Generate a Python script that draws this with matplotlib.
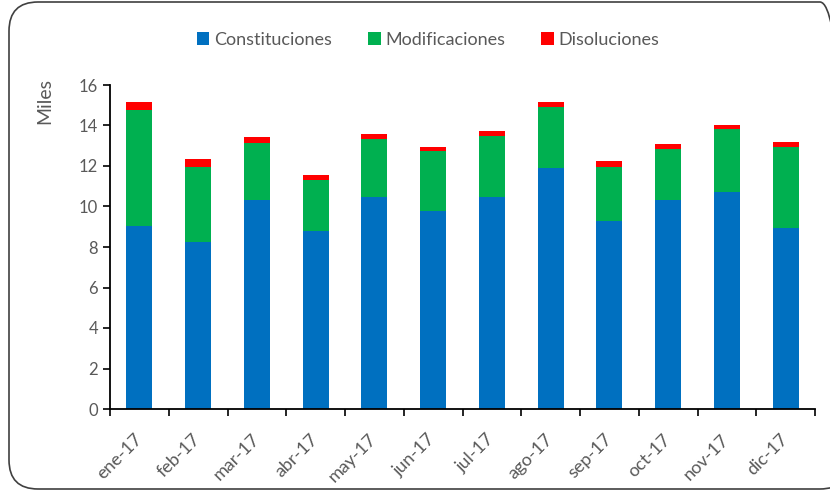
import numpy as np
import matplotlib.pyplot as plt
from matplotlib.patches import FancyBboxPatch
from matplotlib.transforms import ScaledTranslation

plt.rcParams['font.family'] = ['Lato', 'DejaVu Sans']

meses = ['ene-17', 'feb-17', 'mar-17', 'abr-17', 'may-17', 'jun-17',
         'jul-17', 'ago-17', 'sep-17', 'oct-17', 'nov-17', 'dic-17']
# valores en miles
constituciones = [9.04, 8.27, 10.31, 8.80, 10.47, 9.80, 10.47, 11.89, 9.29, 10.31, 10.72, 8.96]
modificaciones = [5.73, 3.70, 2.84, 2.51, 2.85, 2.94, 3.03, 3.04, 2.68, 2.52, 3.11, 3.97]
disoluciones = [0.40, 0.36, 0.27, 0.26, 0.26, 0.19, 0.24, 0.24, 0.26, 0.24, 0.18, 0.24]

azul = '#0070C0'
verde = '#00B050'
rojo = '#FF0000'
gris = '#595959'

fig = plt.figure(figsize=(8.3, 4.98), dpi=100)
ax = fig.add_axes([110 / 830, 1 - 409 / 498, 705 / 830, 324 / 498])

# marco redondeado del grafico
marco = FancyBboxPatch((9 / 830, 9 / 498), 840 / 830, 487 / 498,
                       boxstyle='round,pad=0,rounding_size=0.035',
                       transform=fig.transFigure, fill=False,
                       edgecolor='#404040', linewidth=1.2, clip_on=False,
                       mutation_aspect=830 / 498)
fig.patches.append(marco)

x = np.arange(len(meses))
c = np.array(constituciones)
m = np.array(modificaciones)
d = np.array(disoluciones)
w = 0.44
ax.bar(x, c, w, color=azul, label='Constituciones')
ax.bar(x, m, w, bottom=c, color=verde, label='Modificaciones')
ax.bar(x, d, w, bottom=c + m, color=rojo, label='Disoluciones')

ax.set_xlim(-0.5, len(meses) - 0.5)
ax.set_ylim(0, 16)
ax.set_yticks(np.arange(0, 17, 2))
ax.tick_params(axis='y', labelsize=12, labelcolor=gris, length=5, width=1.2, direction='out')

ax.set_xticks(x)
ax.set_xticklabels(meses, rotation=45, ha='right', va='center', rotation_mode='anchor',
                   fontsize=13, color=gris)
desplaza = ScaledTranslation(6 / 100, 0, fig.dpi_scale_trans)
for lab in ax.get_xticklabels():
    lab.set_transform(lab.get_transform() + desplaza)
ax.set_xticks(np.arange(-0.5, len(meses)), minor=True)
ax.tick_params(axis='x', which='major', length=0, pad=20)
ax.tick_params(axis='x', which='minor', length=5, width=1.2, direction='out')

for s in ['top', 'right']:
    ax.spines[s].set_visible(False)
for s in ['left', 'bottom']:
    ax.spines[s].set_linewidth(1.3)
    ax.spines[s].set_color('black')

fig.text(45 / 830, 1 - 101 / 498, 'Miles', rotation=90, ha='center', va='center',
         fontsize=14, color=gris)

fig.legend(loc='center', bbox_to_anchor=(428 / 830, 1 - 40 / 498), ncol=3,
           frameon=False, fontsize=13, labelcolor=gris, handlelength=0.7,
           handleheight=0.7, handletextpad=0.25, columnspacing=2.0)

fig.savefig('out.png', dpi=100)
